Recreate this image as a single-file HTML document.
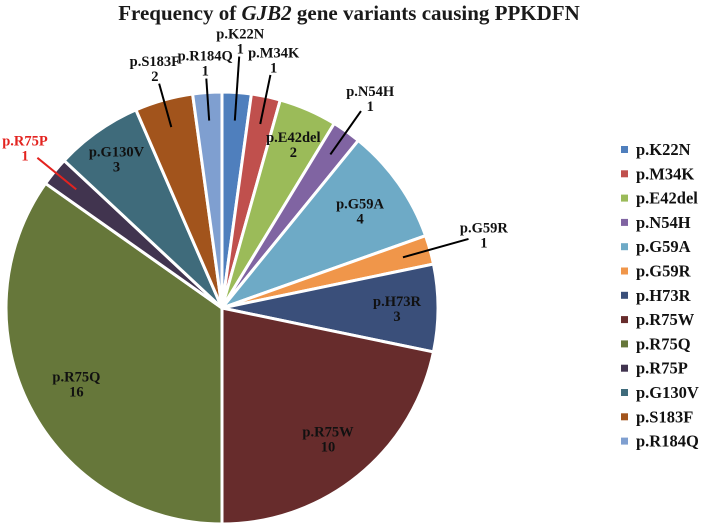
<!DOCTYPE html>
<html><head><meta charset="utf-8"><style>
body{margin:0;background:#fff;}
svg{display:block;font-family:"Liberation Serif",serif;font-weight:bold;}
</style></head><body>
<svg id="chart" width="702" height="528">
<text x="349" y="20" text-anchor="middle" font-size="21" fill="#1a1a1a">Frequency of <tspan font-style="italic">GJB2</tspan> gene variants causing PPKDFN</text>
<g id="slices"></g><g id="labels"></g><g id="legend"></g>
</svg>
<script>
const categories=["p.K22N","p.M34K","p.E42del","p.N54H","p.G59A","p.G59R","p.H73R","p.R75W","p.R75Q","p.R75P","p.G130V","p.S183F","p.R184Q"];
const values=[1,1,2,1,4,1,3,10,16,1,3,2,1];
const colors=["#4f7fbd","#c0504d","#9bbb59","#8064a2","#6eaac6","#f0964a","#3a4f7a","#672c2c","#66773a","#41344f","#3f6b7b","#a2541c","#7f9fd0"];
const outside=[true,true,false,true,false,true,false,false,false,true,false,true,true];
const labelR=[268,254,179,257,169,272,175,168,164,254,183,249,246];
const cx=222,cy=308,R=216;
const ns="http://www.w3.org/2000/svg";
const total=values.reduce((a,b)=>a+b,0);
function pt(a,r){return [cx+r*Math.sin(a),cy-r*Math.cos(a)];}
const sg=document.getElementById('slices'),lg=document.getElementById('labels'),leg=document.getElementById('legend');
let cum=0;
values.forEach((v,i)=>{
  const a0=cum/total*2*Math.PI; cum+=v; const a1=cum/total*2*Math.PI; const am=(a0+a1)/2;
  const p0=pt(a0,R),p1=pt(a1,R);
  const path=document.createElementNS(ns,'path');
  path.setAttribute('d',`M${cx},${cy}L${p0[0]},${p0[1]}A${R},${R} 0 ${a1-a0>Math.PI?1:0} 1 ${p1[0]},${p1[1]}Z`);
  path.setAttribute('fill',colors[i]);path.setAttribute('stroke','#fff');path.setAttribute('stroke-width','3');
  
  
  sg.appendChild(path);
  const lp=pt(am,labelR[i]);
  const col=categories[i]==="p.R75P"?"#e3231f":"#111";
  if(outside[i]){
    const s=pt(am,R*0.87),e=pt(am,labelR[i]-16);
    const ln=document.createElementNS(ns,'line');
    ln.setAttribute('x1',s[0]);ln.setAttribute('y1',s[1]);ln.setAttribute('x2',e[0]);ln.setAttribute('y2',e[1]);
    ln.setAttribute('stroke',col==="#111"?"#000":col);ln.setAttribute('stroke-width','2');
    
    
    lg.appendChild(ln);
  }
  const t=document.createElementNS(ns,'text');
  t.setAttribute('x',lp[0]);t.setAttribute('y',lp[1]-2);t.setAttribute('text-anchor','middle');
  t.setAttribute('font-size','14.5');t.setAttribute('fill',col);
  
  
  const s1=document.createElementNS(ns,'tspan');s1.setAttribute('x',lp[0]);s1.textContent=categories[i];
  const s2=document.createElementNS(ns,'tspan');s2.setAttribute('x',lp[0]);s2.setAttribute('dy','15');s2.textContent=values[i];
  t.appendChild(s1);t.appendChild(s2);lg.appendChild(t);
  const ly=152+i*24.3;
  const m=document.createElementNS(ns,'rect');
  m.setAttribute('x',621);m.setAttribute('y',ly-6);m.setAttribute('width',7);m.setAttribute('height',7);m.setAttribute('fill',colors[i]);
  
  
  leg.appendChild(m);
  const lt=document.createElementNS(ns,'text');
  lt.setAttribute('x',636);lt.setAttribute('y',ly+3);lt.setAttribute('font-size','16.5');lt.setAttribute('fill','#111');
  lt.textContent=categories[i];
  
  
  leg.appendChild(lt);
});
</script>
</body></html>
